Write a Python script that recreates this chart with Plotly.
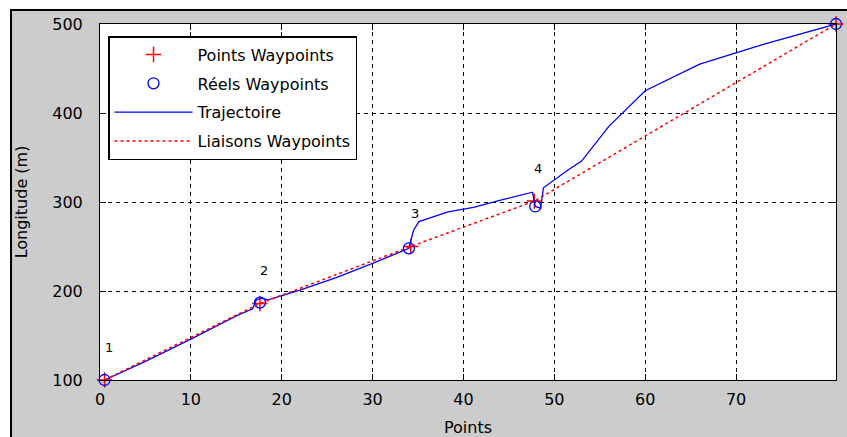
import plotly.graph_objects as go

# Waypoints (planned) and real waypoints reached
wp_x = [0.5, 17.6, 34.2, 47.8, 81]
wp_y = [100, 186, 250, 301, 500]
real_x = [0.5, 17.6, 34.0, 47.9, 81]
real_y = [100, 187, 248, 295, 500]
wp_labels = ["1", "2", "3", "4"]  # label of waypoint 5 falls outside the view

# Robot trajectory
traj_x = [0.5, 5, 10, 15, 16.8, 17.2, 17.8, 18.5, 22, 26, 30, 33, 34.0,
          34.5, 35.1, 38.3, 41.1, 44.1, 46.3, 47.6, 47.9, 48.5, 48.8,
          51.5, 53, 56, 60, 66, 73, 81]
traj_y = [100, 121, 146, 172, 180, 190, 192, 190, 201, 215, 231, 244, 248,
          268, 278, 289, 294, 302, 308, 311, 295, 293, 316,
          336, 346, 385, 425, 455, 477, 500]

x_ticks = [0, 10, 20, 30, 40, 50, 60, 70]
y_ticks = [100, 200, 300, 400, 500]

FONT = "DejaVu Sans, Arial, sans-serif"

fig = go.Figure()
fig.add_trace(go.Scatter(x=wp_x, y=wp_y, mode="markers", name="Points Waypoints",
                         legendgroup="a",
                         marker=dict(symbol="cross-thin", size=11, color="red",
                                     line=dict(color="red", width=1.5)),
                         cliponaxis=False))
fig.add_trace(go.Scatter(x=real_x, y=real_y, mode="markers", name="Réels Waypoints",
                         legendgroup="b",
                         marker=dict(symbol="circle-open", size=11, color="blue",
                                     line=dict(color="blue", width=1.3)),
                         cliponaxis=False))
fig.add_trace(go.Scatter(x=traj_x, y=traj_y, mode="lines", name="Trajectoire",
                         legendgroup="c",
                         line=dict(color="blue", width=1.3)))
fig.add_trace(go.Scatter(x=wp_x, y=wp_y, mode="lines", name="Liaisons Waypoints",
                         legendgroup="d",
                         line=dict(color="red", width=1.5, dash="dot")))

for xv, yv, t in zip(wp_x, wp_y, wp_labels):
    fig.add_annotation(x=xv, y=yv, text=t, showarrow=False, xshift=4, yshift=33,
                       font=dict(family=FONT, size=13, color="black"))

axis_common = dict(showline=True, linecolor="black", linewidth=1, mirror="ticks",
                   ticks="inside", ticklen=6, tickcolor="black",
                   showgrid=True, gridcolor="black", gridwidth=1, griddash="4px,4px",
                   zeroline=False, tickfont=dict(family=FONT, size=16, color="black"))

fig.update_xaxes(range=[0, 81], tickvals=x_ticks, ticklabelstandoff=5,
                 title=dict(text="Points", standoff=13,
                            font=dict(family=FONT, size=16, color="black")),
                 **axis_common)
fig.update_yaxes(range=[100, 500], tickvals=y_ticks, ticklabelstandoff=13,
                 title=dict(text="Longitude (m)", standoff=20,
                            font=dict(family=FONT, size=16, color="black")),
                 **axis_common)

# figure frame: white strip outside, black border line
fig.add_shape(type="rect", xref="paper", yref="paper",
              x0=-0.2, x1=1.2, y0=1.0393, y1=1.2,
              fillcolor="white", line=dict(width=0), layer="below")
fig.add_shape(type="rect", xref="paper", yref="paper",
              x0=-0.2, x1=-0.1209, y0=-0.4, y1=1.2,
              fillcolor="white", line=dict(width=0), layer="below")
fig.add_shape(type="rect", xref="paper", yref="paper",
              x0=-0.1209, x1=1.2, y0=-0.4, y1=1.0393,
              fillcolor="rgba(0,0,0,0)", line=dict(color="black", width=2), layer="below")

fig.update_layout(
    width=847, height=437,
    margin=dict(l=100, r=11, t=24, b=57, autoexpand=False),
    paper_bgcolor="#cccccc", plot_bgcolor="white",
    showlegend=True,
    legend=dict(x=0.0109, y=0.966, xanchor="left", yanchor="top",
                bgcolor="white", bordercolor="black", borderwidth=1.5,
                font=dict(family=FONT, size=16, color="black"),
                itemwidth=78, tracegroupgap=5),
)

fig.write_html("out.html", config={"displayModeBar": False},
               post_script="document.body.style.margin='0';")
